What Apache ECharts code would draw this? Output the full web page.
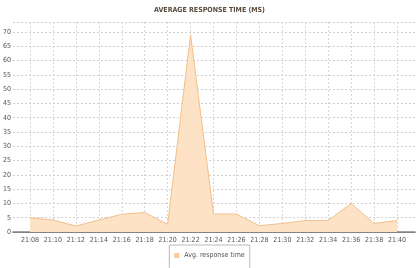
<!DOCTYPE html>
<html><head><meta charset="utf-8">
<script src="https://cdn.jsdelivr.net/npm/echarts@6/dist/echarts.min.js"></script>
<style>html,body{margin:0;padding:0;background:#fff}#c{width:419px;height:268px}</style>
</head><body><div id="c"></div>
<script>
const categories = ['21:08','21:10','21:12','21:14','21:16','21:18','21:20','21:22','21:24','21:26','21:28','21:30','21:32','21:34','21:36','21:38','21:40'];
const avgResponse = [5, 4.2, 2.1, 4.2, 6.2, 6.8, 2.7, 69, 6.3, 6.3, 2.2, 3, 4, 4, 10, 3, 4];
const seriesName = 'Avg. response time';
const titleText = 'AVERAGE RESPONSE TIME (MS)';
const yMin = 0, yMax = 73.5, yStep = 5;

const chart = echarts.init(document.getElementById('c'), null, {renderer: 'canvas'});
const axisFont = {fontFamily: 'DejaVu Sans Condensed', fontSize: 7, color: '#555'};
chart.setOption({
  animation: false,
  backgroundColor: '#fff',
  title: {text: titleText, left: 'center', top: 2,
    textStyle: {fontFamily: 'DejaVu Sans Condensed', fontSize: 7, fontWeight: 'bold', color: '#5a4a3a'}},
  legend: {
    data: [{name: seriesName, icon: 'rect'}],
    top: 245, left: 'center',
    itemWidth: 5, itemHeight: 5, itemGap: 4,
    padding: [7, 5, 12, 5],
    borderColor: '#bbb', borderWidth: 1,
    textStyle: {fontFamily: 'DejaVu Sans Condensed', fontSize: 7, color: '#555'}
  },
  grid: [
    {left: 12, right: 4, top: 22, bottom: 36},
    {left: 30, right: 22, top: 22, bottom: 36}
  ],
  xAxis: [
    {type: 'value', gridIndex: 0, position: 'bottom', min: 0, max: 1,
      axisLine: {show: true, onZero: false, lineStyle: {color: '#777', width: 1}},
      axisTick: {show: false}, axisLabel: {show: false}, splitLine: {show: false}},
    {type: 'value', gridIndex: 0, position: 'top', min: 0, max: 1,
      axisLine: {show: true, lineStyle: {color: '#888', width: 1.5}},
      axisTick: {show: false}, axisLabel: {show: false}, splitLine: {show: false}},
    {type: 'category', gridIndex: 1, data: categories, boundaryGap: false,
      axisLine: {show: false}, axisTick: {show: false},
      axisLabel: Object.assign({interval: 0, margin: 5}, axisFont),
      splitLine: {show: true, interval: 0, lineStyle: {color: '#d6d6d6', type: [2, 2], width: 1}}}
  ],
  yAxis: [
    {type: 'value', gridIndex: 0, min: yMin, max: yMax, interval: yStep,
      axisLine: {show: false}, axisTick: {show: false},
      axisLabel: Object.assign({margin: 2, showMaxLabel: false}, axisFont),
      splitLine: {show: true, lineStyle: {color: '#d0d0d0', type: [2, 2], width: 1}}},
    {type: 'value', gridIndex: 1, min: yMin, max: yMax, show: false,
      splitLine: {show: false}}
  ],
  series: [{
    name: seriesName, type: 'line', xAxisIndex: 2, yAxisIndex: 1,
    data: avgResponse, symbol: 'none', smooth: false,
    itemStyle: {color: '#f9c99a'},
    lineStyle: {color: '#f2bf8c', width: 1},
    areaStyle: {color: '#fde2c6', opacity: 1}
  }]
});
</script></body></html>
